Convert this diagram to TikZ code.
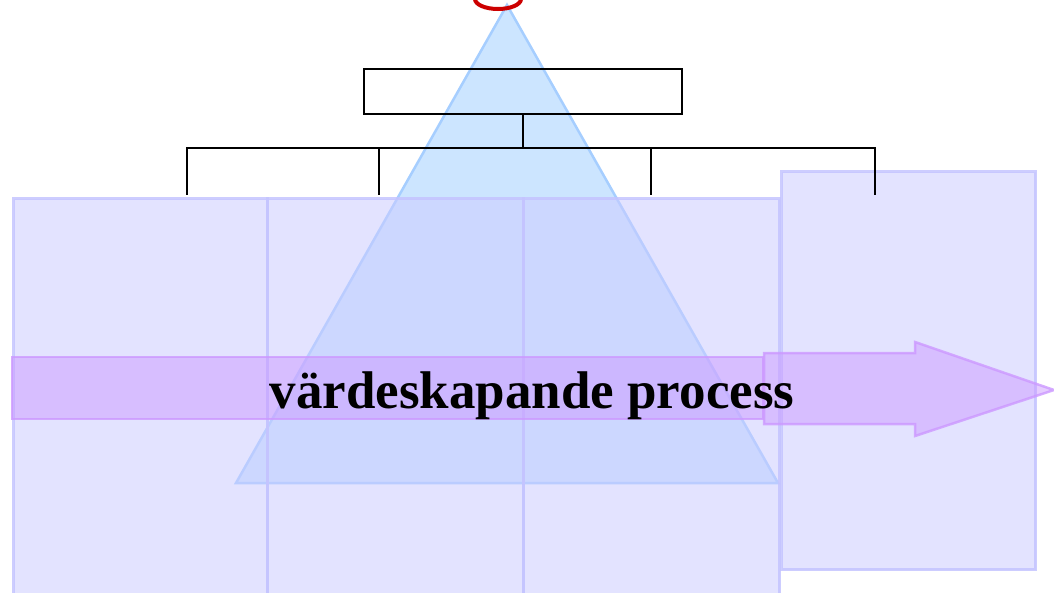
\documentclass[tikz,border=0pt]{standalone}
\usepackage{fontspec}
\setmainfont{Liberation Serif}
\definecolor{lavF}{HTML}{CCCCFF}
\definecolor{lavB}{HTML}{C4C4FF}
\definecolor{triF}{HTML}{CCE5FF}
\definecolor{triB}{HTML}{A6CEFF}
\definecolor{arrF}{HTML}{CC99FF}
\definecolor{arrB}{HTML}{CC99FF}
\definecolor{ringR}{HTML}{CC0000}
\begin{document}
\begin{tikzpicture}[x=1pt,y=-1pt,
  lav/.style={draw=lavB, line width=3pt, fill=lavF, fill opacity=0.55, draw opacity=0.85, inner sep=0, anchor=north west},
  tri/.style={draw=triB, line width=2.5pt, fill=triF, line join=miter},
  tree/.style={draw=black, line width=2.8pt},
  arr/.style={draw=arrB, line width=2.5pt, fill=arrF, fill opacity=0.5, draw opacity=0.8},
  lbl/.style={font=\bfseries\fontsize{53}{60}\selectfont, anchor=base, inner sep=0}]
\useasboundingbox (0,0) rectangle (1054,592);
% triangle
\path[tri] (507,5) coordinate (apex) -- (778,483) coordinate (tr) -- (236,483) coordinate (tl) -- cycle;
% rectangles
\node[lav, minimum width=254pt, minimum height=410pt] (r1) at (12,197) {};
\node[lav, minimum width=256pt, minimum height=410pt] (r2) at (266,197) {};
\node[lav, minimum width=256pt, minimum height=410pt] (r3) at (522,197) {};
\node[lav, minimum width=254pt, minimum height=398pt] (r4) at (780,170) {};
% tree
\node[tree, minimum width=318pt, minimum height=45pt, inner sep=0] (top) at (523,91.5) {};
\coordinate (j) at (523,148);
\coordinate (h1) at (187,148);
\coordinate (h2) at (379,148);
\coordinate (h3) at (651,148);
\coordinate (h4) at (875,148);
\coordinate (b1) at (187,195);
\coordinate (b2) at (379,195);
\coordinate (b3) at (651,195);
\coordinate (b4) at (875,195);
\draw[tree] (top.south) -- (j);
\draw[tree, line cap=rect] (h1) -- (h4);
\draw[tree] (h1) -- (b1);
\draw[tree] (h2) -- (b2);
\draw[tree] (h3) -- (b3);
\draw[tree] (h4) -- (b4);
% arrows
\path[arr] (12,357) rectangle (763,419);
\path[arr] (764,353) -- (915,353) -- (915,342) -- (1054,390) -- (915,436) -- (915,424) -- (764,424) -- cycle;
% label
\node[lbl] (label) at (532,408) {värdeskapande process};
% red ring at top
\draw[ringR, line width=4pt] (498,-1) ellipse [x radius=23pt, y radius=10pt];
\end{tikzpicture}
\end{document}
